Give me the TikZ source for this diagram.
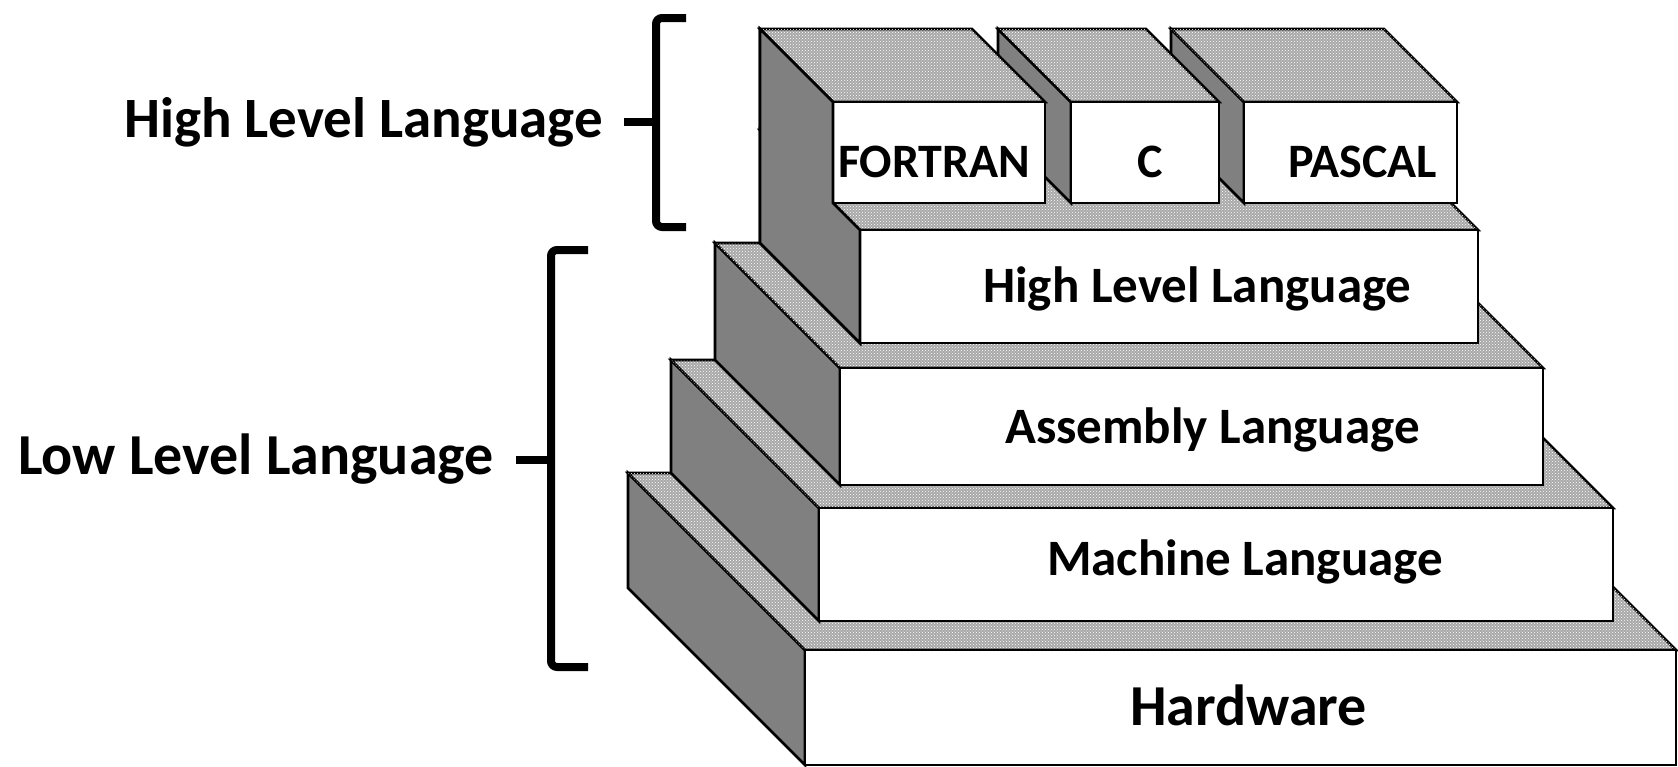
\documentclass[tikz,border=0pt]{standalone}
\usepackage{fontspec}
\setmainfont{Carlito}
\usetikzlibrary{patterns}
\definecolor{sidegray}{gray}{0.5}
\definecolor{topgray}{gray}{0.66}
\tikzset{
  face/.style={draw=black, line width=2.6pt, line join=miter},
  side face/.style={face, fill=sidegray},
  top face/.style={face, fill=topgray, postaction={pattern=crosshatch dots, pattern color=white}},
  front face/.style={face, fill=white},
  brace line/.style={line width=8pt, rounded corners=6pt},
  side text/.style={font=\bfseries\fontsize{#1}{#1}\selectfont, inner sep=0pt, anchor=base west},
  side text/.default=57,
  box text/.style={font=\bfseries\fontsize{#1}{#1}\selectfont, inner sep=0pt, anchor=base west},
  box text/.default=51,
}
% front face from (#1,#2) to (#3,#4), pushed back by #5
\newcommand{\slab}[5]{%
  \draw[side face] (#1,#2) -- (#1-#5,#2-#5) -- (#1-#5,#4-#5) -- (#1,#4) -- cycle;
  \draw[top face] (#1,#2) -- (#3,#2) -- (#3-#5,#2-#5) -- (#1-#5,#2-#5) -- cycle;
  \draw[front face] (#1,#2) rectangle (#3,#4);
}

\begin{document}
\begin{tikzpicture}[x=1pt, y=-1pt]
            \useasboundingbox (0,0) rectangle (1678,766);

            % Slabs, bottom up
            \slab{805}{650}{1676}{765}{177}
            \slab{819}{508}{1613}{621}{148}
            \slab{840}{368}{1543}{485}{125}
            \slab{860}{230}{1478}{343}{100}

            % Blocks on top, right to left
            \slab{1244}{102}{1457}{203}{73}
            \slab{1071}{102}{1219}{203}{73}
            \slab{833}{102}{1045}{203}{73}

            % Shared left face of the top block and its slab
            \draw[side face] (760,29) -- (833,102) -- (833,203) -- (860,230) -- (860,343) -- (760,243) -- cycle;

            % Texts
            \node[box text=58] (hwtxt) at (1130,725) {Hardware};
            \node[box text] (mctxt) at (1047,575) {Machine Language};
            \node[box text] (asmtxt) at (1005,443) {Assembly Language};
            \node[box text] (hlltxt) at (983,302) {High Level Language};
            \node[box text=48] (fortxt) at (838,177) {FORTRAN};
            \node[box text=48] (ctxt) at (1137,177) {C};
            \node[box text=48] (pastxt) at (1288,177) {PASCAL};

            \node[side text] (highlbl) at (124,137) {High Level Language};
            \node[side text=58] (lowlbl) at (18,474) {Low Level Language};

            % Brackets
            \draw[brace line] (686,18) -- (656,18) -- (656,227) -- (686,227);
            \draw[brace line] (624,122) -- (656,122);
            \draw[brace line] (588,250) -- (551,250) -- (551,667) -- (588,667);
            \draw[brace line] (516,460) -- (551,460);
\end{tikzpicture}
\end{document}
